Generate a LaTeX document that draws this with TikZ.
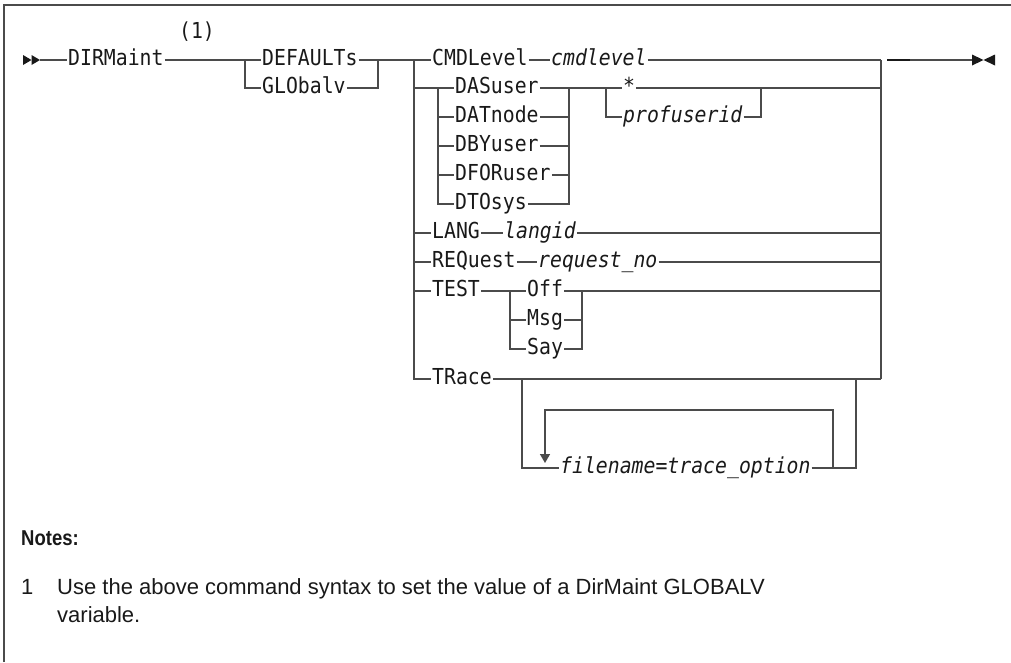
\documentclass[tikz,border=0pt]{standalone}
\usepackage{fontspec}
\setmainfont{Liberation Sans}
\newfontfamily\rrfont[FakeStretch=0.9]{DejaVu Sans Mono}
\newfontfamily\notesfont[FakeStretch=0.86]{Liberation Sans}
\usetikzlibrary{arrows.meta}
\definecolor{ln}{RGB}{75,75,75}
\definecolor{tx}{RGB}{25,25,25}
\tikzset{
  rr/.style={line width=1.5pt, draw=ln},
  kw/.style={anchor=west, inner xsep=1pt, inner ysep=0pt, text=tx,
    font=\rrfont\fontsize{22}{24}\selectfont, text height=11.6pt, text depth=0pt},
  kwi/.style={kw, font=\rrfont\itshape\fontsize{22}{24}\selectfont},
  notefont/.style={anchor=base west, inner sep=0pt, text=tx, font=\fontsize{22}{28}\selectfont},
  tip/.style={fill=tx}
}
\begin{document}
\begin{tikzpicture}[x=1pt,y=-1pt]
\useasboundingbox (0,0) rectangle (1011,662);
% frame
\coordinate (fbl) at (4,662);
\coordinate (ftl) at (4,5);
\coordinate (ftr) at (1011,5);
\draw[rr] (fbl) -- (ftl) -- (ftr);

% start
\coordinate (st) at (40,60);
\fill[tip] (23,55) -- (31.5,60) -- (23,65) -- cycle;
\fill[tip] (31.5,55) -- (40,60) -- (31.5,65) -- cycle;

\node[kw] (dir) at (67,60) {DIRMaint};
\node[kw, anchor=center] (fn1) at (197,33) {(1)};
\draw[rr] (st) -- (dir.west);

% DEFAULTs / GLObalv
\node[kw] (def) at (261,60) {DEFAULTs};
\node[kw] (glo) at (261,88) {GLObalv};
\coordinate (b1l) at (245,60);
\coordinate (b1r) at (378,60);
\draw[rr] (dir.east) -- (b1l) -- (def.west);
\draw[rr] (b1l) |- (glo.west);
\draw[rr] (def.east) -- (b1r);
\draw[rr] (glo.east) -| (b1r);

% main branch
\coordinate (mv) at (414,60);
\coordinate (er) at (881,60);
\node[kw] (cmd) at (431,60) {CMDLevel};
\node[kwi] (cmdv) at (550,60) {cmdlevel};
\draw[rr] (b1r) -- (mv) -- (cmd.west);
\draw[rr] (cmd.east) -- (cmdv.west);
\draw[rr] (cmdv.east) -- (er);

% DASuser group
\node[kw] (das) at (454,88) {DASuser};
\node[kw] (dat) at (454,117) {DATnode};
\node[kw] (dby) at (454,146) {DBYuser};
\node[kw] (dfo) at (454,175) {DFORuser};
\node[kw] (dto) at (454,204) {DTOsys};
\coordinate (s1l) at (438,88);
\coordinate (s1r) at (569,88);
\draw[rr] (mv |- s1l) -- (s1l) -- (das.west);
\draw[rr] (s1l) |- (dto.west);
\foreach \n in {dat,dby,dfo} {
  \draw[rr] (s1l |- \n.west) -- (\n.west);
  \draw[rr] (\n.east) -- (s1r |- \n.east);
}
\draw[rr] (das.east) -- (s1r);
\draw[rr] (dto.east) -| (s1r);
\coordinate (pj) at (606,88);
\coordinate (pr) at (761,88);
\node[kw] (star) at (622,88) {*};
\node[kwi] (prof) at (622,117) {profuserid};
\draw[rr] (s1r) -- (pj) -- (star.west);
\draw[rr] (pj) |- (prof.west);
\draw[rr] (prof.east) -| (pr);
\draw[rr] (star.east) -- (er |- star.east);

% LANG
\node[kw] (lang) at (431,233) {LANG};
\node[kwi] (langv) at (503,233) {langid};
\draw[rr] (mv |- lang.west) -- (lang.west);
\draw[rr] (lang.east) -- (langv.west);
\draw[rr] (langv.east) -- (er |- langv.east);

% REQuest
\node[kw] (req) at (431,262) {REQuest};
\node[kwi] (reqv) at (537,262) {request\_no};
\draw[rr] (mv |- req.west) -- (req.west);
\draw[rr] (req.east) -- (reqv.west);
\draw[rr] (reqv.east) -- (er |- reqv.east);

% TEST
\node[kw] (test) at (431,291) {TEST};
\node[kw] (off) at (526,291) {Off};
\node[kw] (msg) at (526,320) {Msg};
\node[kw] (say) at (526,349) {Say};
\coordinate (tl) at (510,291);
\coordinate (tr) at (582,291);
\draw[rr] (mv |- test.west) -- (test.west);
\draw[rr] (test.east) -- (tl) -- (off.west);
\draw[rr] (tl |- msg.west) -- (msg.west);
\draw[rr] (tl) |- (say.west);
\draw[rr] (msg.east) -- (tr |- msg.east);
\draw[rr] (say.east) -| (tr);
\draw[rr] (off.east) -- (er |- off.east);

% TRace
\node[kw] (trc) at (431,379) {TRace};
\node[kwi] (fname) at (559,468) {filename=trace\_option};
\coordinate (mvb) at (414,379);
\coordinate (erb) at (881,379);
\coordinate (tj) at (522,379);
\coordinate (tjb) at (522,468);
\coordinate (ltop) at (833,410);
\coordinate (larr) at (545,410);
\coordinate (ltip) at (545,463);
\coordinate (lr) at (833,468);
\coordinate (ob) at (856,468);
\coordinate (ot) at (856,379);
\draw[rr] (mv) -- (mvb) -- (trc.west);
\draw[rr] (er) -- (erb);
\draw[rr] (trc.east) -- (erb);
\draw[rr] (tj) -- (tjb) -- (fname.west);
\draw[rr] (fname.east) -- (lr) -- (ob) -- (ot);
\draw[rr, -{Triangle[width=10pt,length=9pt]}] (lr) -- (ltop) -- (larr) -- (ltip);

% end
\coordinate (ed) at (972,60);
\draw[rr] (910,60) -- (ed);
\draw[line width=2.4pt, draw=tx] (887,60) -- (910,60);
\fill[tip] (972,54.5) -- (983.5,60) -- (972,65.5) -- cycle;
\fill[tip] (995,54.5) -- (983.5,60) -- (995,65.5) -- cycle;

% notes
\node[notefont, font=\notesfont\bfseries\fontsize{21.5}{24}\selectfont] (notes) at (21,545) {Notes:};
\node[notefont] (num) at (21,594) {1};
\node[notefont] (nt1) at (57,594) {Use the above command syntax to set the value of a DirMaint GLOBALV};
\node[notefont] (nt2) at (57,622) {variable.};
\end{tikzpicture}
\end{document}
